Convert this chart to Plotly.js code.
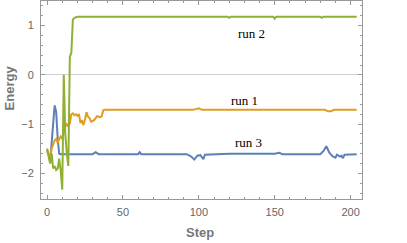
<!DOCTYPE html>
<html>
<head>
<meta charset="utf-8">
<script src="https://cdn.plot.ly/plotly-3.0.1.min.js"></script>
<style>html,body{margin:0;padding:0;background:#fff;}#chart{width:407px;height:243px;}</style>
</head>
<body>
<div id="chart"></div>
<script>
// run 1 (orange)
const run1Steps = [0,1,2,3,4,5,6,7,8,9,10,11,12,13,14,15,16,17,18,19,20,21,22,23,24,25,26,27,28,29,30,31,32,33,34,35,36,37,38,90,92,96,100,102,150,183,185,187,189,204];
const run1Energy = [-1.5,-1.62,-1.7,-1.5,-1.4,-1.33,-1.3,-1.38,-1.3,-1.25,-1.3,-1.15,-1.05,-1.0,-1.05,-0.98,-0.8,-0.78,-0.82,-0.8,-0.83,-0.8,-0.98,-0.92,-1.02,-0.9,-0.76,-0.85,-0.88,-0.95,-0.93,-0.92,-0.88,-0.84,-0.85,-0.86,-0.84,-0.72,-0.71,-0.71,-0.72,-0.71,-0.68,-0.71,-0.71,-0.71,-0.74,-0.74,-0.71,-0.71];
// run 2 (green)
const run2Steps = [0,1,2,3,4,5,6,7,8,9,10,11,12,13,14,15,16,17,18,20,60,119,120,121,149,150,151,180,181,182,204];
const run2Energy = [-1.5,-1.62,-1.8,-1.6,-1.9,-1.85,-1.93,-1.9,-1.7,-1.95,-2.33,0.0,-1.2,-1.6,-1.85,0.37,0.45,1.12,1.16,1.18,1.18,1.18,1.16,1.18,1.18,1.14,1.18,1.18,1.16,1.18,1.18];
// run 3 (blue)
const run3Steps = [0,1,2,3,4,5,6,7,8,9,30,32,34,60,61,62,92,95,97,99,101,103,104,120,150,153,155,180,182,184,186,188,190,191,193,194,195,196,204];
const run3Energy = [-1.55,-1.62,-1.76,-1.45,-1.0,-0.62,-0.75,-1.3,-1.6,-1.61,-1.61,-1.57,-1.61,-1.61,-1.57,-1.61,-1.61,-1.66,-1.72,-1.64,-1.63,-1.71,-1.62,-1.6,-1.6,-1.58,-1.61,-1.61,-1.55,-1.45,-1.58,-1.65,-1.68,-1.62,-1.66,-1.64,-1.69,-1.62,-1.61];

const labels = ["run 1", "run 2", "run 3"];
const labelSteps = [130, 135, 133];
const labelEnergy = [-0.51, 0.85, -1.38];

const xTicks = [0, 50, 100, 150, 200];
const yTicks = [-2, -1, 0, 1];

const colors = ["#E19C24", "#8FB032", "#5E81B5"];

const traces = [
  {x: run3Steps, y: run3Energy, mode: "lines", line: {color: colors[2], width: 2}},
  {x: run1Steps, y: run1Energy, mode: "lines", line: {color: colors[0], width: 2}},
  {x: run2Steps, y: run2Energy, mode: "lines", line: {color: colors[1], width: 2}}
];

const annotations = labels.map((t, i) => ({
  x: labelSteps[i], y: labelEnergy[i], xref: "x", yref: "y", text: t, showarrow: false,
  xanchor: "center", yanchor: "middle",
  font: {family: "Liberation Serif, Times New Roman, serif", size: 13, color: "#000"}
}));
annotations.push({x: -0.097, y: 0.563, xref: "paper", yref: "paper", text: "<b>Energy</b>", textangle: -90, showarrow: false,
  xanchor: "center", yanchor: "middle",
  font: {family: "Liberation Sans, Arial, sans-serif", size: 13, color: "#777"}});
annotations.push({x: 0.496, y: -0.167, xref: "paper", yref: "paper", text: "<b>Step</b>", showarrow: false,
  xanchor: "center", yanchor: "middle",
  font: {family: "Liberation Sans, Arial, sans-serif", size: 13, color: "#777"}});

const axisCommon = {
  ticks: "inside", ticklen: 4, tickwidth: 1, tickcolor: "#999",
  showline: true, linecolor: "#999", linewidth: 1, mirror: "ticks",
  showgrid: false,
  tickfont: {family: "Liberation Sans, Arial, sans-serif", size: 11, color: "#666"}
};

const layout = {
  width: 407, height: 243,
  margin: {l: 41, r: 45, t: 1, b: 44},
  paper_bgcolor: "#fff", plot_bgcolor: "#fff",
  showlegend: false,
  xaxis: Object.assign({}, axisCommon, {
    range: [-4, 207.5], tickvals: xTicks, zeroline: false,
    ticklabelstandoff: 3,
    minor: {dtick: 10, tick0: 0, ticks: "inside", ticklen: 2, tickcolor: "#999"}
  }),
  yaxis: Object.assign({}, axisCommon, {
    range: [-2.52, 1.5], tickvals: yTicks, zeroline: true, zerolinecolor: "#d0d0d0", zerolinewidth: 1,
    ticklabelstandoff: 4,
    minor: {dtick: 0.2, tick0: 0, ticks: "inside", ticklen: 2, tickcolor: "#999"}
  }),
  annotations: annotations
};

Plotly.newPlot("chart", traces, layout, {staticPlot: true, displayModeBar: false});
</script>
</body>
</html>
